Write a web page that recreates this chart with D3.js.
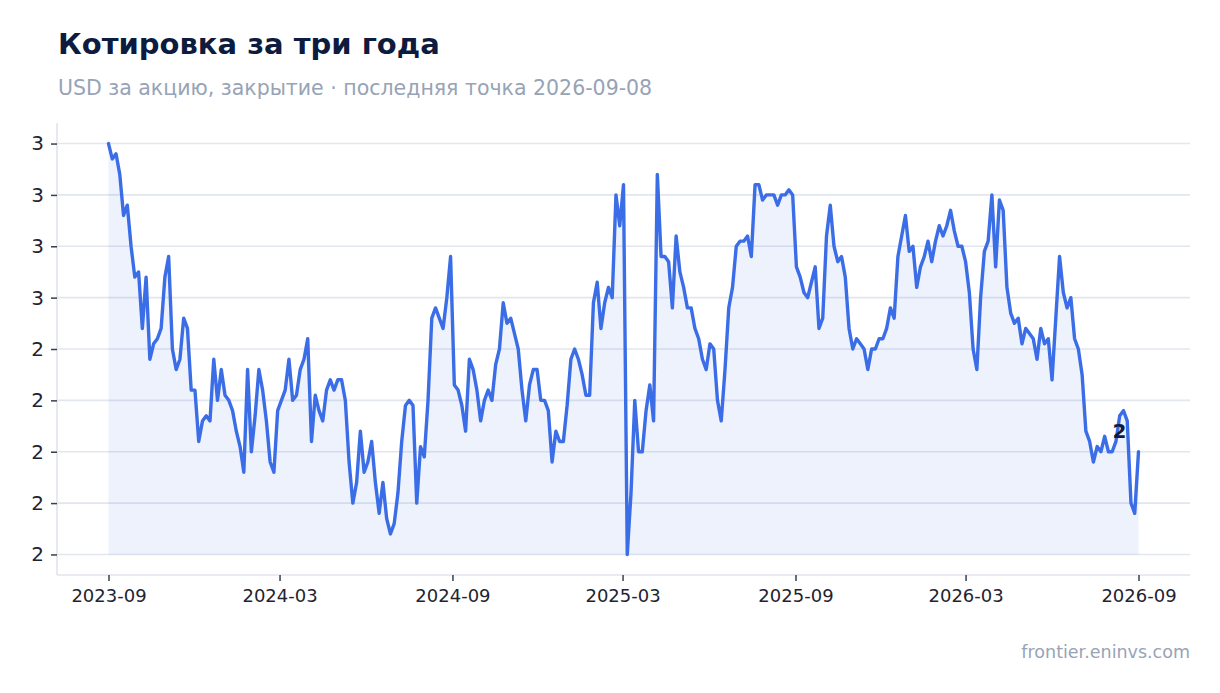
<!DOCTYPE html>
<html>
<head>
<meta charset="utf-8">
<script src="https://cdn.jsdelivr.net/npm/d3@7"></script>
<style>
  html, body { margin: 0; padding: 0; background: #ffffff; }
  svg { display: block; }
</style>
</head>
<body>
<svg id="chart" width="1220" height="693"></svg>
<script>
// ---- DATA ----
const title = "Котировка за три года";
const subtitle = "USD за акцию, закрытие · последняя точка 2026-09-08";
const footer = "frontier.eninvs.com";

const startDate = "2023-09-08";   // first close
const stepDays = 4;                // spacing of the sampled closes

const prices = [
  2.80,2.77,2.78,2.74,2.66,2.68,2.60,2.54,2.55,2.44,2.54,2.38,2.41,2.42,2.44,2.54,2.58,2.40,2.36,2.38,
  2.46,2.44,2.32,2.32,2.22,2.26,2.27,2.26,2.38,2.30,2.36,2.31,2.30,2.28,2.24,2.21,2.16,2.36,2.20,2.27,
  2.36,2.32,2.26,2.18,2.16,2.28,2.30,2.32,2.38,2.30,2.31,2.36,2.38,2.42,2.22,2.31,2.28,2.26,2.32,2.34,
  2.32,2.34,2.34,2.30,2.18,2.10,2.14,2.24,2.16,2.18,2.22,2.14,2.08,2.14,2.07,2.04,2.06,2.12,2.22,2.29,
  2.30,2.29,2.10,2.21,2.19,2.30,2.46,2.48,2.46,2.44,2.50,2.58,2.33,2.32,2.29,2.24,2.38,2.36,2.32,2.26,
  2.30,2.32,2.30,2.37,2.40,2.49,2.45,2.46,2.43,2.40,2.32,2.26,2.33,2.36,2.36,2.30,2.30,2.28,2.18,2.24,
  2.22,2.22,2.29,2.38,2.40,2.38,2.35,2.31,2.31,2.49,2.53,2.44,2.49,2.52,2.50,2.70,2.64,2.72,2.00,2.12,
  2.30,2.20,2.20,2.28,2.33,2.26,2.74,2.58,2.58,2.57,2.48,2.62,2.55,2.52,2.48,2.48,2.44,2.42,2.38,2.36,
  2.41,2.40,2.30,2.26,2.36,2.48,2.52,2.60,2.61,2.61,2.62,2.58,2.72,2.72,2.69,2.70,2.70,2.70,2.68,2.70,
  2.70,2.71,2.70,2.56,2.54,2.51,2.50,2.53,2.56,2.44,2.46,2.62,2.68,2.60,2.57,2.58,2.54,2.44,2.40,2.42,
  2.41,2.40,2.36,2.40,2.40,2.42,2.42,2.44,2.48,2.46,2.58,2.62,2.66,2.59,2.60,2.52,2.56,2.58,2.61,2.57,
  2.61,2.64,2.62,2.64,2.67,2.63,2.60,2.60,2.57,2.51,2.40,2.36,2.50,2.59,2.61,2.70,2.56,2.69,2.67,2.52,
  2.47,2.45,2.46,2.41,2.44,2.43,2.42,2.38,2.44,2.41,2.42,2.34,2.46,2.58,2.51,2.48,2.50,2.42,2.40,2.35,
  2.24,2.22,2.18,2.21,2.20,2.23,2.20,2.20,2.22,2.27,2.28,2.26,2.10,2.08,2.20
];

const xTickLabels = ["2023-09", "2024-03", "2024-09", "2025-03", "2025-09", "2026-03", "2026-09"];
const yTickValues = [2.0, 2.1, 2.2, 2.3, 2.4, 2.5, 2.6, 2.7, 2.8];

// ---- BUILD ----
const parseDay = d3.utcParse("%Y-%m-%d");
const start = parseDay(startDate);
const dates = prices.map((_, i) => d3.utcDay.offset(start, i * stepDays));
const data = prices.map((v, i) => ({ date: dates[i], value: v }));
const xTickValues = xTickLabels.map(s => parseDay(s + startDate.slice(7)));

const svg = d3.select("#chart");
const font = "'DejaVu Sans', Verdana, sans-serif";

const plot = { left: 57, right: 1190, top: 123, bottom: 575 };

const xExt = d3.extent(data, d => d.date);
const xPad = (xExt[1] - xExt[0]) * 0.05;
const x = d3.scaleUtc()
  .domain([new Date(+xExt[0] - xPad), new Date(+xExt[1] + xPad)])
  .range([plot.left, plot.right]);

const yExt = d3.extent(data, d => d.value);
const yPad = (yExt[1] - yExt[0]) * 0.05;
const y = d3.scaleLinear()
  .domain([yExt[0] - yPad, yExt[1] + yPad])
  .range([plot.bottom, plot.top]);

const lineColor = "#3b6ee6";
const fmt = d3.format(".0f");

// Title / subtitle
svg.append("text").attr("x", 58).attr("y", 54)
  .attr("font-family", font).attr("font-size", 29).attr("font-weight", "bold")
  .attr("fill", "#0d1b3e").text(title);
svg.append("text").attr("x", 58).attr("y", 95)
  .attr("font-family", font).attr("font-size", 20.5)
  .attr("fill", "#97a3b6").text(subtitle);

// Gridlines
svg.append("g").selectAll("line").data(yTickValues).join("line")
  .attr("x1", plot.left).attr("x2", plot.right)
  .attr("y1", d => y(d)).attr("y2", d => y(d))
  .attr("stroke", "#e2e6ee").attr("stroke-width", 1.6);

// Area
const area = d3.area()
  .x(d => x(d.date))
  .y0(y(yExt[0]))
  .y1(d => y(d.value));
svg.append("path").datum(data)
  .attr("d", area)
  .attr("fill", lineColor).attr("fill-opacity", 0.085);

// Line
const line = d3.line().x(d => x(d.date)).y(d => y(d.value));
svg.append("path").datum(data)
  .attr("d", line)
  .attr("fill", "none")
  .attr("stroke", lineColor)
  .attr("stroke-width", 3.4)
  .attr("stroke-linejoin", "round")
  .attr("stroke-linecap", "round");

// Axes
const yAxis = d3.axisLeft(y).tickValues(yTickValues).tickFormat(fmt).tickSize(6).tickPadding(7);
const gy = svg.append("g").attr("transform", `translate(${plot.left},0)`).call(yAxis);
gy.select(".domain").attr("stroke", "#e0e4ec").attr("stroke-width", 1.6)
  .attr("d", `M0,${plot.top}V${plot.bottom}`);
gy.selectAll(".tick line").attr("stroke", "#3a3f4b").attr("stroke-width", 1.5);
gy.selectAll(".tick text").attr("font-family", font).attr("font-size", 20).attr("fill", "#1f2430");

const xAxis = d3.axisBottom(x).tickValues(xTickValues)
  .tickFormat((d, i) => xTickLabels[i]).tickSize(6).tickPadding(8);
const gx = svg.append("g").attr("transform", `translate(0,${plot.bottom})`).call(xAxis);
gx.select(".domain").attr("stroke", "#e0e4ec").attr("stroke-width", 1.6)
  .attr("d", `M${plot.left},0H${plot.right}`);
gx.selectAll(".tick line").attr("stroke", "#3a3f4b").attr("stroke-width", 1.5);
gx.selectAll(".tick text").attr("font-family", font).attr("font-size", 18).attr("fill", "#1f2430");

// Last value label
const last = data[data.length - 1];
svg.append("text")
  .attr("x", x(last.date) - 12).attr("y", y(last.value) - 14)
  .attr("text-anchor", "end")
  .attr("font-family", font).attr("font-size", 20).attr("font-weight", "bold")
  .attr("fill", "#0d1b3e").text(fmt(last.value));

// Footer
svg.append("text").attr("x", 1190).attr("y", 658).attr("text-anchor", "end")
  .attr("font-family", font).attr("font-size", 17.5)
  .attr("fill", "#97a3b6").text(footer);
</script>
</body>
</html>
